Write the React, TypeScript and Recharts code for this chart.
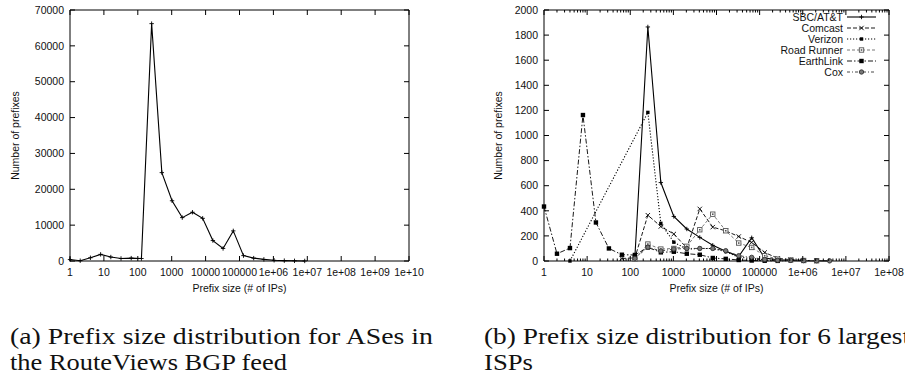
import { LineChart, Line, XAxis, YAxis, ReferenceArea } from "recharts";

// ── (a) all ASes in the RouteViews feed ──
const allSizes = [
  1, 2, 4, 8, 16, 32, 64, 128, 256, 512, 1024, 2048, 4096, 8192, 16384, 32768,
  65536, 131072, 262144, 524288, 1048576, 2097152, 4194304, 8388608,
];
const allCounts = [
  400, 80, 900, 1850, 1100, 700, 800, 700, 66200, 24650, 16800, 12100, 13600,
  11900, 5700, 3500, 8400, 1500, 800, 450, 200, 100, 50, 20,
];

// ── (b) six largest ISPs ──
const ispSizes = [
  1, 2, 4, 8, 16, 32, 64, 128, 256, 512, 1024, 2048, 4096, 8192, 16384, 32768,
  65536, 131072, 262144, 524288, 1048576, 2097152, 4194304,
];
const sbcCounts = [null, null, null, null, null, null, null, 30, 1865, 625, 355, 255, 188, 125, 77, 37, 185, 24, 10, 5, 3, 2, 1];
const comcastCounts = [null, null, null, null, null, null, 20, 25, 365, 275, 215, 105, 415, 270, 240, 195, 148, 68, 22, 10, 5, 3, null];
const verizonCounts = [null, null, 0, null, null, null, null, null, 1184, 300, 150, 95, 100, 100, 75, 30, 20, 8, 3, 2, null, null, null];
const roadRunnerCounts = [null, null, null, null, null, null, null, 15, 135, 95, 100, 117, 249, 373, 241, 143, 108, 42, 15, 8, 4, 2, null];
const earthLinkCounts = [434, 58, 103, 1163, 307, 100, 50, 48, 108, 69, 74, 58, 50, 24, 17, 8, 4, 2, 1, null, null, null, null];
const coxCounts = [null, null, null, null, null, null, null, 20, 110, 80, 95, 100, 100, 100, 82, 42, 29, 12, 6, 5, 3, 2, 1];

// ── ticks ──
const allXTicks = [1, 10, 100, 1000, 10000, 100000, 1e6, 1e7, 1e8, 1e9, 1e10];
const allYTicks = [0, 10000, 20000, 30000, 40000, 50000, 60000, 70000];
const ispXTicks = [1, 10, 100, 1000, 10000, 100000, 1e6, 1e7, 1e8];
const ispYTicks = [0, 200, 400, 600, 800, 1000, 1200, 1400, 1600, 1800, 2000];
const minorSteps = [2, 3, 4, 5, 6, 7, 8, 9];

const FONT = "'Liberation Sans', Arial, Helvetica, sans-serif";
const SERIF = "'Liberation Serif', 'Times New Roman', serif";
const INK = "#111";

type Shape = "plus" | "cross" | "dotSquare" | "openSquare" | "square" | "circle";

const ispSeries: {
  name: string;
  counts: (number | null)[];
  shape: Shape;
  dash?: string;
  width: number;
  color: string;
}[] = [
  { name: "SBC/AT&T", counts: sbcCounts, shape: "plus", width: 1.1, color: "#000" },
  { name: "Comcast", counts: comcastCounts, shape: "cross", dash: "4 2", width: 0.9, color: "#000" },
  { name: "Verizon", counts: verizonCounts, shape: "dotSquare", dash: "1.2 1.8", width: 1.1, color: "#000" },
  { name: "Road Runner", counts: roadRunnerCounts, shape: "openSquare", dash: "3 2", width: 0.8, color: "#555" },
  { name: "EarthLink", counts: earthLinkCounts, shape: "square", dash: "5 2 1.5 2", width: 0.9, color: "#000" },
  { name: "Cox", counts: coxCounts, shape: "circle", dash: "3 2 1 2", width: 0.9, color: "#333" },
];

interface Plot {
  left: number;
  right: number;
  top: number;
  bottom: number;
}

function withMinor(majors: number[]) {
  const out: number[] = [];
  majors.forEach((m, i) => {
    out.push(m);
    if (i < majors.length - 1) minorSteps.forEach((s) => out.push(m * s));
  });
  return out;
}

function isDecade(v: number) {
  const l = Math.log10(v);
  return Math.abs(l - Math.round(l)) < 1e-9;
}

function formatSize(v: number) {
  if (v < 1e6) return String(v);
  const e = Math.round(Math.log10(v));
  return `1e+${String(e).padStart(2, "0")}`;
}

function toPoints(sizes: number[], counts: (number | null)[]) {
  return sizes
    .map((x, i) => ({ x, y: counts[i] }))
    .filter((d) => d.y !== null && d.y !== undefined);
}

function Marker({ shape, cx, cy, color }: { shape: Shape; cx: number; cy: number; color: string }) {
  const r = 2.2;
  switch (shape) {
    case "plus":
      return (
        <g stroke={color} strokeWidth={0.9}>
          <line x1={cx - r} x2={cx + r} y1={cy} y2={cy} />
          <line x1={cx} x2={cx} y1={cy - r} y2={cy + r} />
        </g>
      );
    case "cross":
      return (
        <g stroke={color} strokeWidth={0.9}>
          <line x1={cx - r} x2={cx + r} y1={cy - r} y2={cy + r} />
          <line x1={cx - r} x2={cx + r} y1={cy + r} y2={cy - r} />
        </g>
      );
    case "dotSquare":
      return <rect x={cx - 1.7} y={cy - 1.7} width={3.4} height={3.4} fill={color} />;
    case "openSquare":
      return (
        <g>
          <rect x={cx - r} y={cy - r} width={2 * r} height={2 * r} fill="#fff" stroke={color} strokeWidth={0.9} />
          <rect x={cx - 0.8} y={cy - 0.8} width={1.6} height={1.6} fill={color} />
        </g>
      );
    case "square":
      return <rect x={cx - r} y={cy - r} width={2 * r} height={2 * r} fill={color} />;
    case "circle":
      return <circle cx={cx} cy={cy} r={r} fill="#777" stroke={color} strokeWidth={0.9} />;
  }
}

function dotFor(shape: Shape, color: string) {
  return (props: any) => {
    const { cx, cy, index } = props;
    if (cx == null || cy == null) return <g key={`d-${index}`} />;
    return <Marker key={`d-${index}`} shape={shape} cx={cx} cy={cy} color={color} />;
  };
}

function makeXTick(plot: Plot, minorLen: number) {
  return (props: any) => {
    const { x, payload } = props;
    const v = payload.value as number;
    const major = isDecade(v);
    const len = major ? 5 : minorLen;
    return (
      <g>
        {len > 0 && <line x1={x} x2={x} y1={plot.bottom} y2={plot.bottom - len} stroke="#000" />}
        {len > 0 && <line x1={x} x2={x} y1={plot.top} y2={plot.top + len} stroke="#000" />}
        {major && (
          <text x={x} y={plot.bottom + 15} textAnchor="middle" fontSize={10.5} fontFamily={FONT} fill={INK}>
            {formatSize(v)}
          </text>
        )}
      </g>
    );
  };
}

function makeYTick(plot: Plot) {
  return (props: any) => {
    const { y, payload } = props;
    return (
      <g>
        <line x1={plot.left} x2={plot.left + 5} y1={y} y2={y} stroke="#000" />
        <line x1={plot.right} x2={plot.right - 5} y1={y} y2={y} stroke="#000" />
        <text x={plot.left - 6} y={y + 3.7} textAnchor="end" fontSize={10.5} fontFamily={FONT} fill={INK}>
          {payload.value}
        </text>
      </g>
    );
  };
}

function XTitle({ viewBox, title, baseline }: any) {
  const cx = viewBox.x + viewBox.width / 2;
  return (
    <text x={cx} y={baseline} textAnchor="middle" fontSize={10.5} fontFamily={FONT} fill={INK}>
      {title}
    </text>
  );
}

function YTitle({ viewBox, title, centerX }: any) {
  const cy = viewBox.y + viewBox.height / 2;
  return (
    <text
      x={centerX}
      y={cy}
      textAnchor="middle"
      dominantBaseline="central"
      transform={`rotate(-90 ${centerX} ${cy})`}
      fontSize={10.5}
      fontFamily={FONT}
      fill={INK}
    >
      {title}
    </text>
  );
}

const W = 452;
const H = 300;
const plotA: Plot = { left: 70, right: 409, top: 10, bottom: 261 };
const plotB: Plot = { left: 89, right: 434, top: 10, bottom: 261 };
const Y_AXIS_W = 60;
const X_AXIS_H = 32;

function margins(p: Plot, w: number) {
  return {
    top: p.top,
    right: w - p.right,
    bottom: H - p.bottom - X_AXIS_H,
    left: p.left - Y_AXIS_W,
  };
}

function AllAsesChart() {
  return (
    <LineChart width={W} height={H} margin={margins(plotA, W)}>
      <XAxis
        dataKey="x"
        type="number"
        scale="log"
        domain={[1, 1e10]}
        ticks={allXTicks}
        interval={0}
        height={X_AXIS_H}
        axisLine={false}
        tickLine={false}
        tick={makeXTick(plotA, 0)}
        label={<XTitle title="Prefix size (# of IPs)" baseline={292} />}
      />
      <YAxis
        type="number"
        domain={[0, 70000]}
        ticks={allYTicks}
        interval={0}
        width={Y_AXIS_W}
        axisLine={false}
        tickLine={false}
        tick={makeYTick(plotA)}
        label={<YTitle title="Number of prefixes" centerX={15} />}
      />
      <ReferenceArea x1={1} x2={1e10} y1={0} y2={70000} fill="none" stroke="#000" strokeWidth={1} />
      <Line
        data={toPoints(allSizes, allCounts)}
        dataKey="y"
        stroke="#000"
        strokeWidth={1.1}
        dot={dotFor("plus", "#000")}
        isAnimationActive={false}
      />
    </LineChart>
  );
}

function IspChart() {
  const w = 450;
  return (
    <LineChart width={w} height={H} margin={margins(plotB, w)}>
      <XAxis
        dataKey="x"
        type="number"
        scale="log"
        domain={[1, 1e8]}
        ticks={withMinor(ispXTicks)}
        interval={0}
        height={X_AXIS_H}
        axisLine={false}
        tickLine={false}
        tick={makeXTick(plotB, 2.5)}
        label={<XTitle title="Prefix size (# of IPs)" baseline={292} />}
      />
      <YAxis
        type="number"
        domain={[0, 2000]}
        ticks={ispYTicks}
        interval={0}
        width={Y_AXIS_W}
        axisLine={false}
        tickLine={false}
        tick={makeYTick(plotB)}
        label={<YTitle title="Number of prefixes" centerX={43} />}
      />
      <ReferenceArea x1={1} x2={1e8} y1={0} y2={2000} fill="none" stroke="#000" strokeWidth={1} />
      {ispSeries.map((s) => (
        <Line
          key={s.name}
          name={s.name}
          data={toPoints(ispSizes, s.counts)}
          dataKey="y"
          stroke={s.color}
          strokeWidth={s.width}
          strokeDasharray={s.dash}
          dot={dotFor(s.shape, s.color)}
          isAnimationActive={false}
        />
      ))}
    </LineChart>
  );
}

function IspLegend() {
  return (
    <svg width={130} height={90} style={{ position: "absolute", left: 770, top: 0 }}>
      {ispSeries.map((s, i) => {
        const y = 17 + i * 11;
        return (
          <g key={s.name}>
            <text x={73} y={y + 3.7} textAnchor="end" fontSize={10.5} fontFamily={FONT} fill={INK}>
              {s.name}
            </text>
            <line x1={77} x2={106} y1={y} y2={y} stroke={s.color} strokeWidth={s.width} strokeDasharray={s.dash} />
            <Marker shape={s.shape} cx={91.5} cy={y} color={s.color} />
          </g>
        );
      })}
    </svg>
  );
}

function Captions() {
  const common = { fontFamily: SERIF, fontSize: 23.5, fill: "#111", lengthAdjust: "spacingAndGlyphs" as const };
  return (
    <svg width={905} height={79} style={{ position: "absolute", left: 0, top: 300, overflow: "hidden" }}>
      <text x={10} y={44} textLength={423} {...common}>(a) Prefix size distribution for ASes in</text>
      <text x={10} y={70} textLength={277} {...common}>the RouteViews BGP feed</text>
      <text x={484} y={44} textLength={426} {...common}>(b) Prefix size distribution for 6 largest</text>
      <text x={484} y={70} textLength={49} {...common}>ISPs</text>
    </svg>
  );
}

export default function App() {
  return (
    <div
      style={{
        position: "absolute",
        left: 0,
        top: 0,
        width: 905,
        height: 379,
        overflow: "hidden",
        background: "#fff",
      }}
    >
      <div style={{ position: "absolute", left: 0, top: 0 }}>
        <AllAsesChart />
      </div>
      <div style={{ position: "absolute", left: 455, top: 0 }}>
        <IspChart />
      </div>
      <IspLegend />
      <Captions />
    </div>
  );
}
